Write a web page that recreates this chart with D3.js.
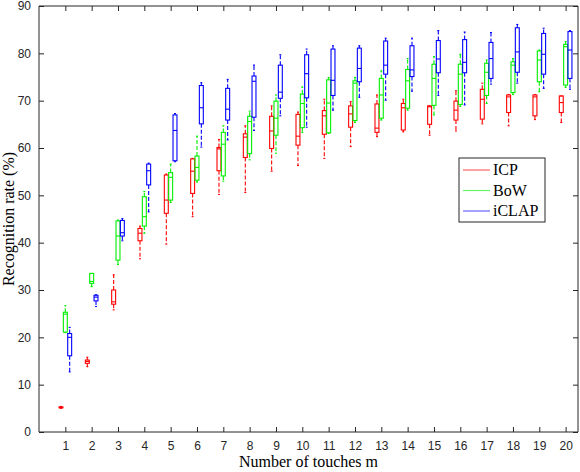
<!DOCTYPE html>
<html lang="en">
<head>
<meta charset="utf-8">
<title>Recognition rate boxplot</title>
<script src="https://d3js.org/d3.v7.min.js"></script>
<style>
  body { margin: 0; background: #fff; }
  .tick text { font-family: "Liberation Sans", Arial, sans-serif; font-size: 12px; fill: #262626; }
  .lab { font-family: "Liberation Serif", "Times New Roman", serif; font-size: 16px; fill: #000; }
</style>
</head>
<body>
<div id="stage"></div>
<script>
// number of touches m
var touches = [1,2,3,4,5,6,7,8,9,10,11,12,13,14,15,16,17,18,19,20];
var yTicks = [0,10,20,30,40,50,60,70,80,90];

// each row: [lower whisker, q1, median, q3, upper whisker]
var icp = [
  [5.0,5.1,5.2,5.3,5.4],[13.8,14.5,14.9,15.2,15.8],[25.8,27.0,27.5,30.0,33.2],
  [36.6,40.4,42.0,43.0,43.5],[39.7,46.2,49.0,54.3,54.5],[45.5,50.4,55.1,57.7,57.8],
  [50.2,55.2,59.8,60.1,61.8],[50.6,58.0,62.3,63.0,64.7],[55.1,59.9,63.6,66.7,68.9],
  [56.3,60.6,62.5,67.1,67.6],[57.8,62.9,66.8,67.9,70.3],[60.3,64.4,67.2,68.9,69.8],
  [62.4,63.3,64.2,69.3,71.2],[63.4,63.8,68.5,69.4,70.3],[62.7,65.0,68.7,68.9,68.9],
  [63.6,65.9,68.0,69.9,72.1],[65.1,66.1,70.3,72.4,73.7],[64.7,67.5,70.8,71.2,71.3],
  [66.0,66.8,70.8,71.2,71.3],[65.4,67.5,69.6,71.0,71.0]
];
var bow = [
  [21.0,21.1,24.9,25.3,26.7],[30.7,31.4,31.8,33.5,33.5],[35.4,36.3,41.4,44.6,44.8],
  [42.0,43.5,45.5,49.7,50.8],[48.5,49.0,53.8,54.8,56.6],[52.8,53.2,55.9,58.3,62.5],
  [53.0,54.1,60.8,63.3,64.7],[57.5,58.8,65.6,66.7,67.8],[58.9,62.7,66.3,69.9,71.2],
  [63.3,64.3,69.4,71.4,72.9],[63.1,63.2,69.5,74.4,74.9],[65.4,65.8,73.7,74.2,74.9],
  [65.9,66.3,71.2,74.7,76.3],[68.0,68.4,74.2,76.6,78.9],[67.0,69.0,74.7,77.7,79.3],
  [68.8,69.2,75.6,77.7,79.8],[69.4,71.1,76.0,77.9,78.6],[71.3,71.7,77.5,78.2,78.9],
  [71.9,74.0,78.6,80.5,80.7],[72.8,73.3,81.4,81.9,82.5]
];
var iclap = [
  [12.7,16.1,20.0,20.8,22.1],[26.5,27.7,28.5,28.9,29.0],[40.4,41.4,42.1,44.7,45.1],
  [46.5,52.2,55.2,56.6,56.8],[57.1,57.3,63.7,67.0,67.3],[60.2,65.1,68.5,73.2,73.8],
  [61.7,65.9,68.2,72.6,74.5],[63.7,66.5,74.1,75.2,77.5],[66.8,70.5,71.8,77.5,79.7],
  [64.4,70.6,75.7,79.7,80.9],[68.0,71.1,74.3,80.9,81.6],[70.7,74.0,76.8,81.1,81.6],
  [70.1,75.6,77.5,82.6,83.2],[72.0,75.1,76.5,81.6,83.2],[71.1,75.9,78.8,82.7,84.8],
  [69.1,75.9,78.1,82.9,84.5],[73.5,74.7,78.9,82.3,84.4],[73.7,76.0,80.3,85.4,86.1],
  [72.6,75.6,79.8,84.2,85.3],[72.4,74.7,80.7,84.6,84.8]
];

var series = [
  {name: "ICP", color: "#ff0000", offset: -0.165, data: icp},
  {name: "BoW", color: "#00f000", offset: 0, data: bow},
  {name: "iCLAP", color: "#0000ff", offset: 0.165, data: iclap}
];

var W = 580, H = 472;
var padL = 39, padR = 578, padT = 6, padB = 432;
var boxW = 0.15;

var svg = d3.select("#stage").append("svg").attr("width", W).attr("height", H);

var x = d3.scaleLinear().domain([0, 20.47]).range([padL, padR]);
var y = d3.scaleLinear().domain([0, 90]).range([padB, padT]);

// boxes
series.forEach(function (s) {
  var g = svg.append("g").attr("stroke", s.color).attr("fill", "none").attr("stroke-width", 1.1);
  s.data.forEach(function (d, i) {
    var cx = touches[i] + s.offset;
    var x0 = x(cx - boxW / 2), x1 = x(cx + boxW / 2);
    // whiskers (dashed)
    g.append("line").attr("x1", x(cx)).attr("x2", x(cx)).attr("y1", y(d[3])).attr("y2", y(d[4]))
      .attr("stroke-dasharray", "4,2");
    g.append("line").attr("x1", x(cx)).attr("x2", x(cx)).attr("y1", y(d[1])).attr("y2", y(d[0]))
      .attr("stroke-dasharray", "4,2");
    // caps
    [d[0], d[4]].forEach(function (v) {
      g.append("line").attr("x1", x(cx - boxW / 4)).attr("x2", x(cx + boxW / 4))
        .attr("y1", y(v)).attr("y2", y(v));
    });
    // box
    g.append("rect").attr("x", x0).attr("y", y(d[3]))
      .attr("width", x1 - x0).attr("height", Math.max(1, y(d[1]) - y(d[3])));
    // median
    g.append("line").attr("x1", x0).attr("x2", x1).attr("y1", y(d[2])).attr("y2", y(d[2]));
  });
});

// axes, box frame with inward ticks
var ax = d3.axisBottom(x).tickValues(touches).tickSize(-5).tickPadding(9).tickFormat(d3.format("d"));
var ay = d3.axisLeft(y).tickValues(yTicks).tickSize(-5).tickPadding(8);
var axTop = d3.axisTop(x).tickValues(touches).tickSize(-5).tickFormat("");
var ayRight = d3.axisRight(y).tickValues(yTicks).tickSize(-5).tickFormat("");

function style(sel) {
  sel.select(".domain").attr("stroke", "#262626");
  sel.selectAll(".tick line").attr("stroke", "#262626");
  sel.selectAll(".tick text").attr("fill", "#262626");
}
svg.append("g").attr("transform", "translate(0," + padB + ")").call(ax).call(style)
  .select(".domain").attr("d", "M" + padL + ",0H" + padR);
svg.append("g").attr("transform", "translate(" + padL + ",0)").call(ay).call(style)
  .select(".domain").attr("d", "M0," + padB + "V" + padT);
svg.append("g").attr("transform", "translate(0," + padT + ")").call(axTop).call(style)
  .select(".domain").attr("d", "M" + padL + ",0H" + padR);
svg.append("g").attr("transform", "translate(" + padR + ",0)").call(ayRight).call(style)
  .select(".domain").attr("d", "M0," + padB + "V" + padT);

// axis labels
svg.append("text").attr("class", "lab").attr("x", (padL + padR) / 2).attr("y", 467)
  .attr("text-anchor", "middle").text("Number of touches m");
svg.append("text").attr("class", "lab").attr("transform", "translate(14," + ((padT + padB) / 2) + ") rotate(-90)")
  .attr("text-anchor", "middle").text("Recognition rate (%)");

// legend
var lg = svg.append("g").attr("transform", "translate(459,158)");
lg.append("rect").attr("width", 86).attr("height", 64).attr("fill", "#fff").attr("stroke", "#262626").attr("stroke-width", 1);
series.forEach(function (s, i) {
  var ly = 12 + i * 20.5;
  lg.append("line").attr("x1", 4).attr("x2", 31).attr("y1", ly).attr("y2", ly)
    .attr("stroke", s.color).attr("stroke-width", 1.2).attr("opacity", 0.6);
  lg.append("text").attr("class", "lab").attr("x", 34).attr("y", ly + 5).text(s.name);
});
</script>
</body>
</html>
